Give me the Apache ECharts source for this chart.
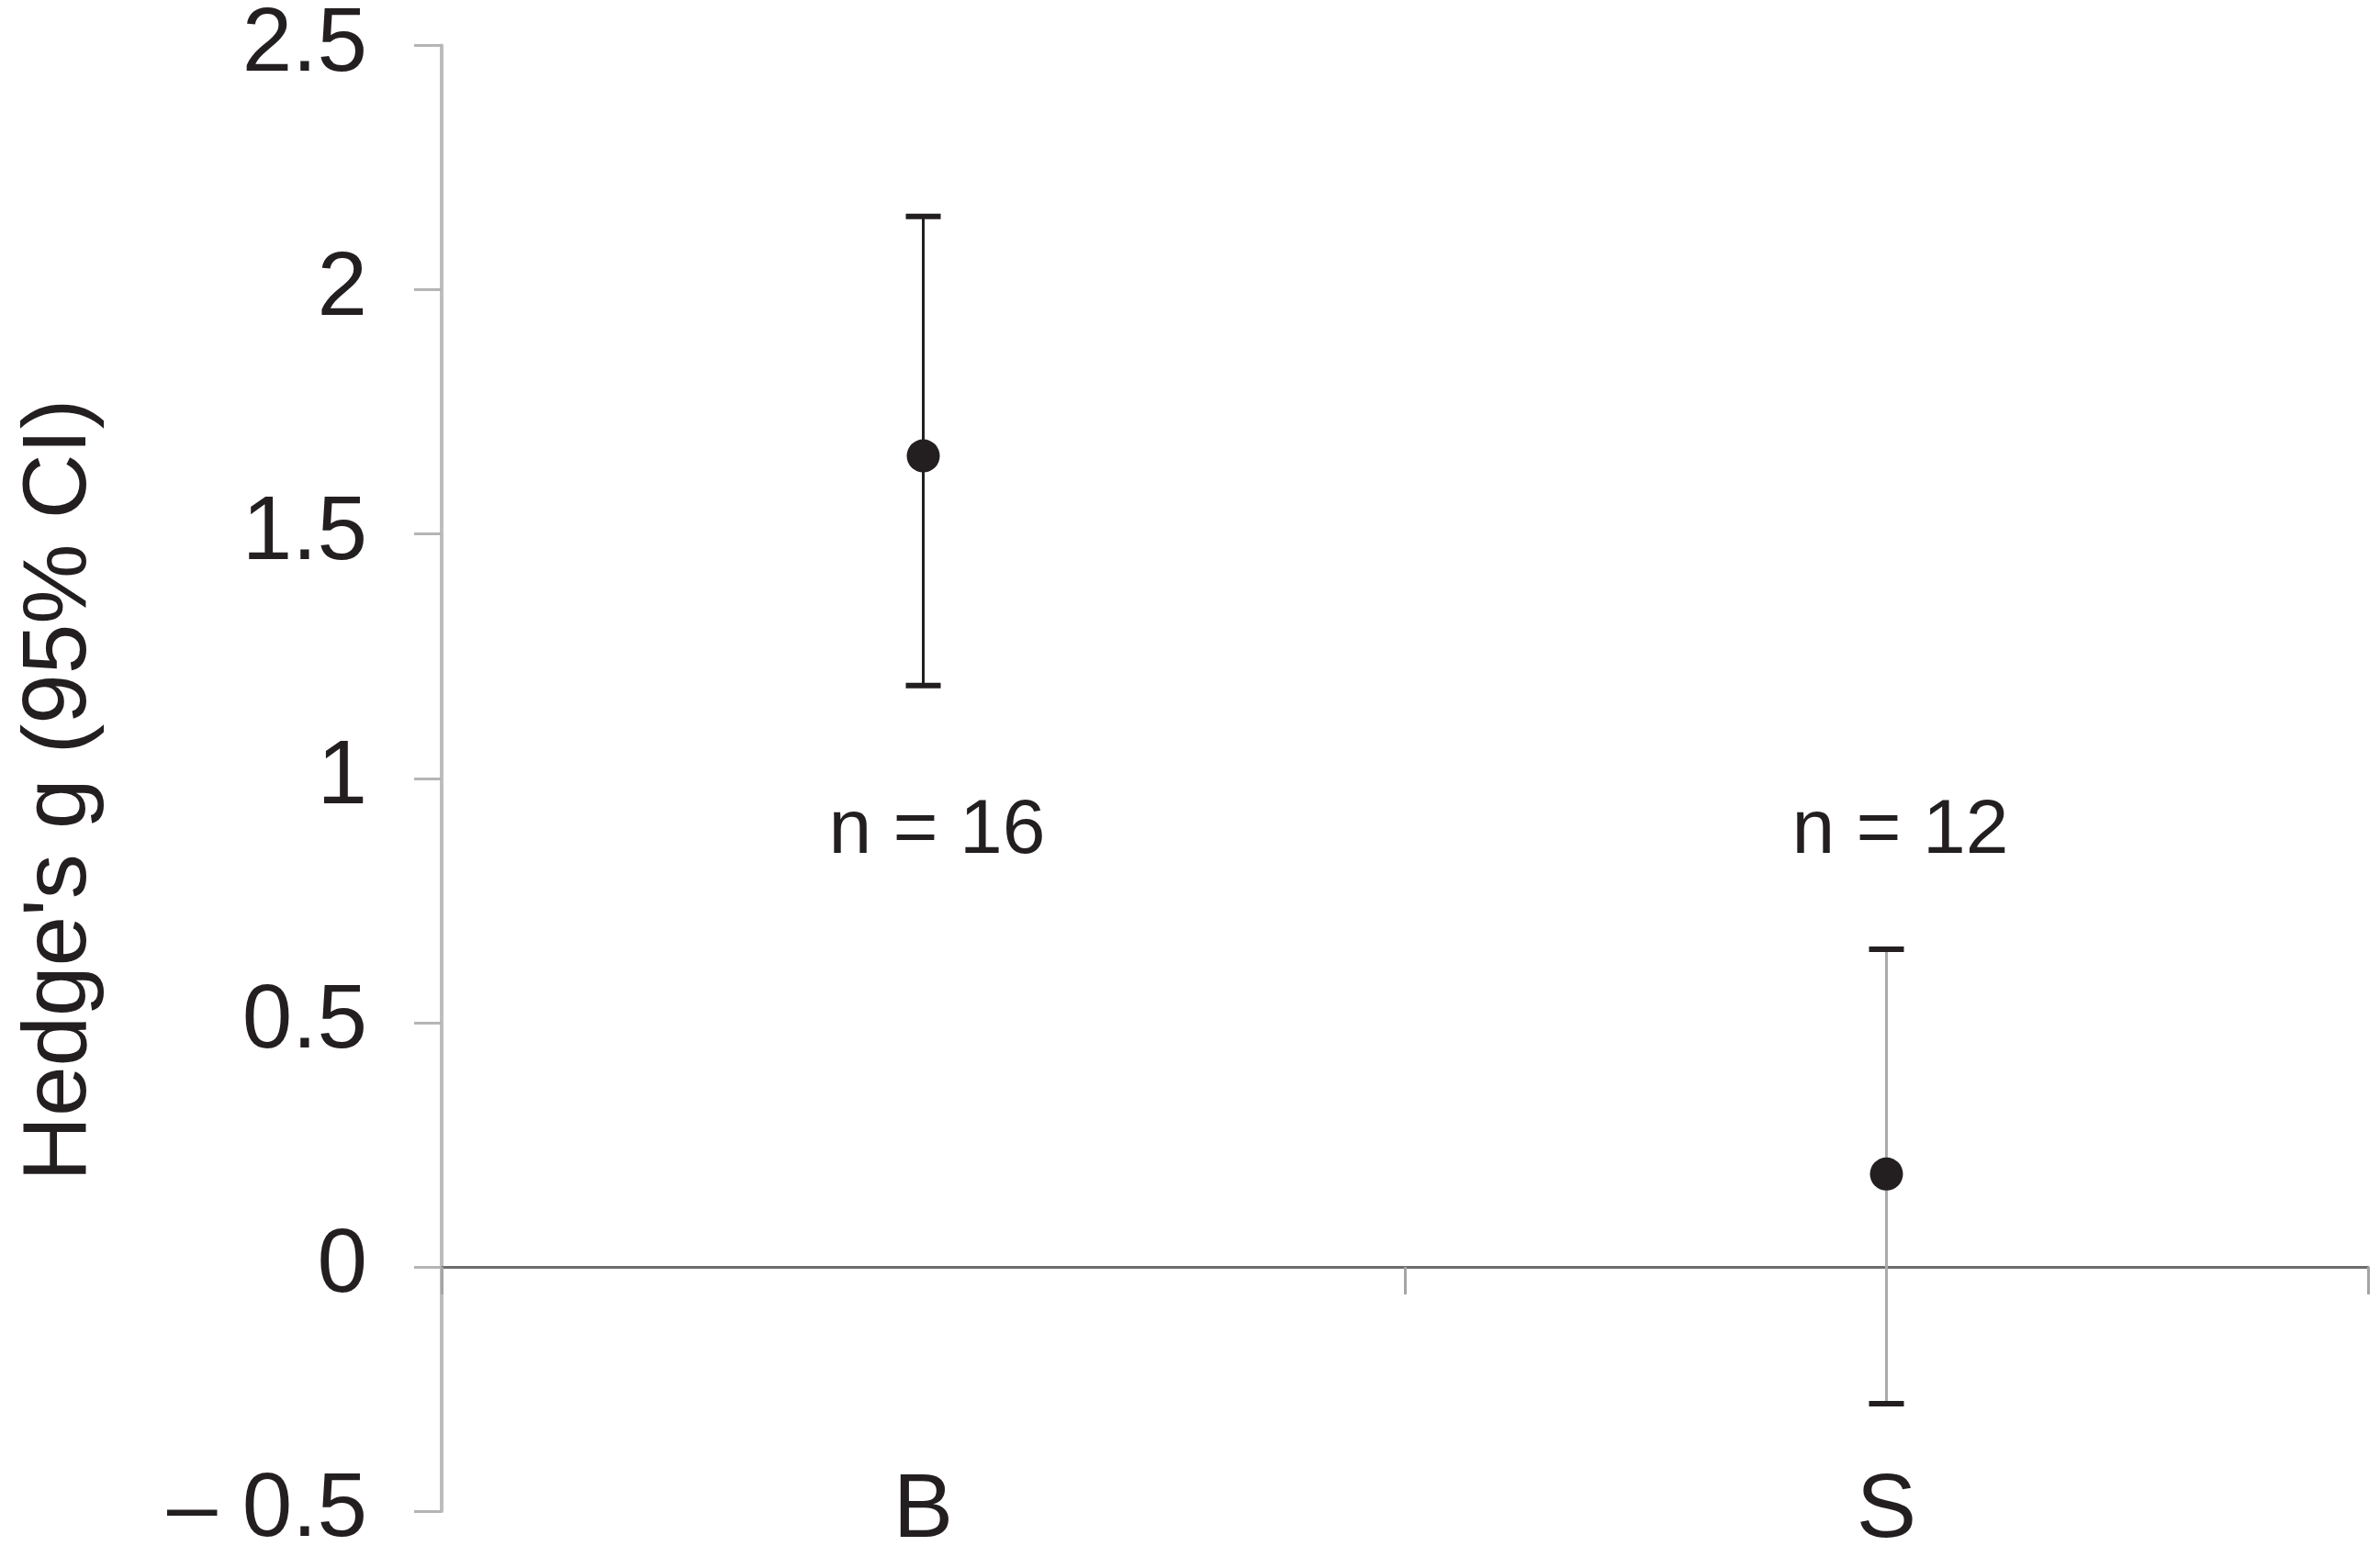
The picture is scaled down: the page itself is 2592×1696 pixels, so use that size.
<!DOCTYPE html>
<html>
<head>
<meta charset="utf-8">
<title>Hedge's g</title>
<script src="https://cdn.jsdelivr.net/npm/echarts@6/dist/echarts.min.js"></script>
<style>
  html, body { margin: 0; padding: 0; background: #fff; }
  #chart { width: 2592px; height: 1696px; }
</style>
</head>
<body>
<div id="chart"></div>
<script>
  // groups and effect sizes (Hedge's g with 95% CI)
  const groups = ['B', 'S'];
  const means = [1.66, 0.19];
  const ciLow = [1.19, -0.28];
  const ciHigh = [2.15, 0.65];
  const sampleLabels = ['n = 16', 'n = 12'];
  const yTicks = [-0.5, 0, 0.5, 1, 1.5, 2, 2.5];
  const yTickLabels = ['\u2013 0.5', '0', '0.5', '1', '1.5', '2', '2.5'];

  const ink = '#231f20';
  const whiskerColors = [ink, '#aaaaaa'];
  const font = '"Liberation Sans", Arial, Helvetica, sans-serif';
  const nLabelLevel = 0.89; // height of the "n = .." captions

  const chart = echarts.init(document.getElementById('chart'));

  const option = {
    animation: false,
    backgroundColor: '#ffffff',
    grid: { left: 481, right: 13, top: 49.5, bottom: 50, containLabel: false },
    xAxis: [
      {
        // line on zero with the band ticks
        type: 'category',
        data: groups,
        position: 'top',
        axisLine: { onZero: true, lineStyle: { color: '#6d6d6d', width: 3 } },
        axisTick: { show: true, inside: true, length: 30, lineStyle: { color: '#a5a5a5', width: 3 } },
        axisLabel: { show: false },
        splitLine: { show: false }
      },
      {
        // group names at the bottom
        type: 'category',
        data: groups,
        position: 'bottom',
        axisLine: { show: false, onZero: false },
        axisTick: { show: false },
        axisLabel: { margin: -48, color: ink, fontSize: 98, fontFamily: font },
        splitLine: { show: false }
      }
    ],
    yAxis: {
      type: 'value',
      min: -0.5,
      max: 2.5,
      interval: 0.5,
      name: "Hedge's g (95% CI)",
      nameLocation: 'middle',
      nameRotate: 90,
      nameGap: 366,
      nameTextStyle: { color: ink, fontSize: 98, fontFamily: font, padding: [0, 26, 0, 0] },
      axisLine: { show: true, lineStyle: { color: '#bdbdbd', width: 4 } },
      axisTick: { show: true, length: 30, lineStyle: { color: '#b5b5b5', width: 3 } },
      axisLabel: {
        margin: 81,
        color: ink,
        fontSize: 98,
        fontFamily: font,
        formatter: function (v) {
          const k = yTicks.findIndex(function (t) { return Math.abs(t - v) < 1e-9; });
          return k >= 0 ? yTickLabels[k] : '';
        }
      },
      splitLine: { show: false }
    },
    series: [
      {
        type: 'custom',
        xAxisIndex: 0,
        data: groups.map(function (g, i) { return [i, ciLow[i], ciHigh[i]]; }),
        encode: { x: 0, y: [1, 2] },
        z: 2,
        renderItem: function (params, api) {
          const i = api.value(0);
          const lo = api.coord([i, api.value(1)]);
          const hi = api.coord([i, api.value(2)]);
          const half = 19;
          return {
            type: 'group',
            children: [
              { type: 'line', shape: { x1: hi[0], y1: hi[1], x2: lo[0], y2: lo[1] },
                style: { stroke: whiskerColors[i], lineWidth: 3 } },
              { type: 'line', shape: { x1: hi[0] - half, y1: hi[1], x2: hi[0] + half, y2: hi[1] },
                style: { stroke: ink, lineWidth: 6 } },
              { type: 'line', shape: { x1: lo[0] - half, y1: lo[1], x2: lo[0] + half, y2: lo[1] },
                style: { stroke: ink, lineWidth: 6 } }
            ]
          };
        }
      },
      {
        type: 'scatter',
        xAxisIndex: 0,
        symbol: 'circle',
        symbolSize: 36,
        z: 3,
        itemStyle: { color: ink, opacity: 1 },
        data: groups.map(function (g, i) { return [g, means[i]]; })
      },
      {
        type: 'scatter',
        xAxisIndex: 0,
        symbolSize: 0,
        silent: true,
        itemStyle: { opacity: 1 },
        label: {
          show: true,
          position: 'inside',
          offset: [15, 0],
          color: ink,
          opacity: 1,
          fontSize: 84,
          fontFamily: font,
          formatter: function (p) { return sampleLabels[p.dataIndex]; }
        },
        data: groups.map(function (g) { return [g, nLabelLevel]; })
      }
    ]
  };

  chart.setOption(option);
</script>
</body>
</html>
